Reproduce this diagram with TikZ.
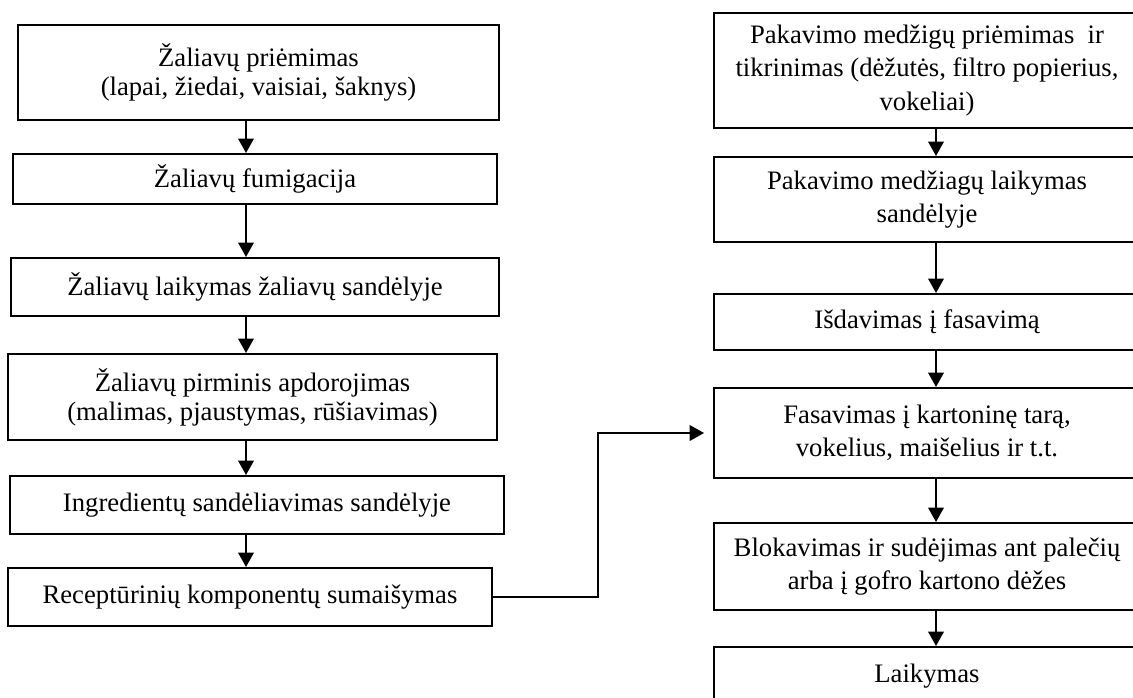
\documentclass[tikz,border=0pt]{standalone}
\usepackage{fontspec}
\setmainfont{Liberation Serif}
\usetikzlibrary{arrows.meta}

\begin{document}
\begin{tikzpicture}[x=0.45pt, y=-0.45pt,
  stage/.style={rectangle, draw=black, line width=0.9pt, align=center, inner sep=2pt, font=\fontsize{12}{13}\selectfont},
  pack/.style={stage, minimum width=191.7pt, font=\fontsize{12}{14.9}\selectfont},
  arrow/.style={-{Triangle[length=6.5pt, width=7pt]}, line width=0.9pt}
]
  \useasboundingbox (0,0) rectangle (1133,697);
  \clip (0,0) rectangle (1133,697);

  % Raw material line
  \node[stage, minimum width=216.5pt, minimum height=42.75pt] (receive) at (258.5,72.5) {Žaliavų priėmimas\\(lapai, žiedai, vaisiai, šaknys)};
  \node[stage, minimum width=217.8pt, minimum height=22.5pt] (fumig) at (255,179) {Žaliavų fumigacija};
  \node[stage, minimum width=219.6pt, minimum height=26.1pt] (rawstore) at (255,287) {Žaliavų laikymas žaliavų sandėlyje};
  \node[stage, minimum width=220pt, minimum height=38.7pt] (primary) at (252.5,397) {Žaliavų pirminis apdorojimas\\(malimas, pjaustymas, rūšiavimas)};
  \node[stage, minimum width=222.3pt, minimum height=26.1pt] (ingstore) at (257,505) {Ingredientų sandėliavimas sandėlyje};
  \node[stage, minimum width=217.8pt, minimum height=26.1pt] (mixing) at (250,597) {Receptūrinių komponentų sumaišymas};

  % Packaging line
  \node[pack, minimum height=51.75pt] (packrecv) at (927,70.5) {Pakavimo medžigų priėmimas~ ir\\tikrinimas (dėžutės, filtro popierius,\\vokeliai)};
  \node[pack, minimum height=38.25pt] (packstore) at (927,199.5) {Pakavimo medžiagų laikymas\\sandėlyje};
  \node[pack, minimum height=25.2pt] (issue) at (927,322) {Išdavimas į fasavimą};
  \node[pack, minimum height=40.5pt] (filling) at (927,433) {Fasavimas į kartoninę tarą,\\vokelius, maišelius ir t.t.};
  \node[pack, minimum height=39.15pt] (blocking) at (927,566.5) {Blokavimas ir sudėjimas ant palečių\\arba į gofro kartono dėžes};
  \node[pack, minimum height=26.1pt] (storage) at (927,676) {Laikymas};

  \coordinate (lx) at (246,0);
  \coordinate (rx) at (936,0);
  \coordinate (bend) at (598,0);

  \draw[arrow] (receive.south -| lx) -- (fumig.north -| lx);
  \draw[arrow] (fumig.south -| lx) -- (rawstore.north -| lx);
  \draw[arrow] (rawstore.south -| lx) -- (primary.north -| lx);
  \draw[arrow] (primary.south -| lx) -- (ingstore.north -| lx);
  \draw[arrow] (ingstore.south -| lx) -- (mixing.north -| lx);

  \draw[arrow] (packrecv.south -| rx) -- (packstore.north -| rx);
  \draw[arrow] (packstore.south -| rx) -- (issue.north -| rx);
  \draw[arrow] (issue.south -| rx) -- (filling.north -| rx);
  \draw[arrow] (filling.south -| rx) -- (blocking.north -| rx);
  \draw[arrow] (blocking.south -| rx) -- (storage.north -| rx);

  \draw[arrow, shorten >=4pt] (mixing.east) -- (mixing.east -| bend) |- (filling.west);
\end{tikzpicture}
\end{document}
